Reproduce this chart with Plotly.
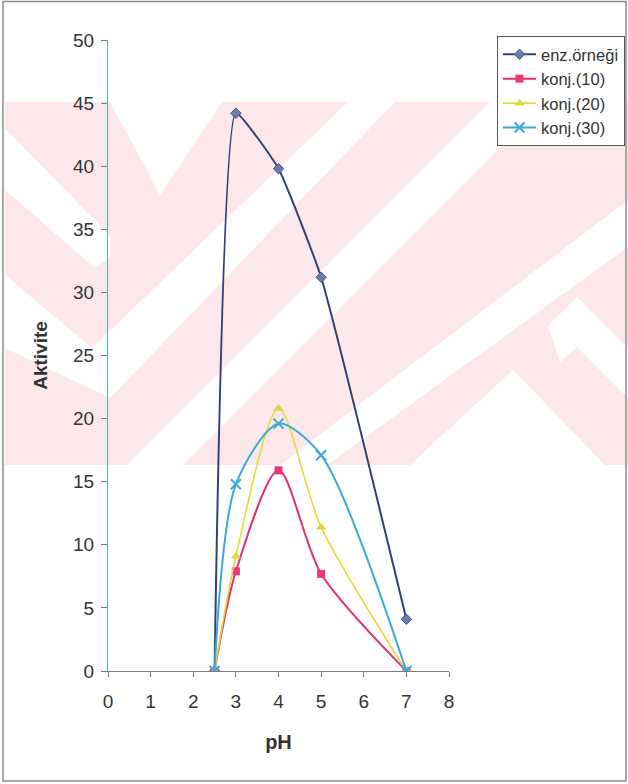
import plotly.graph_objects as go

# pH values and measured activity for each sample
ph = [2.5, 3, 4, 5, 7]
enz_ornegi = [0, 44.2, 39.8, 31.2, 4.1]
konj_10 = [0, 7.9, 15.9, 7.7, 0]
konj_20 = [0, 9.1, 20.8, 11.4, 0]
konj_30 = [0, 14.8, 19.6, 17.1, 0]

series_names = ["enz.örneği", "konj.(10)", "konj.(20)", "konj.(30)"]

W, H = 628, 784
L, R, T, B = 108, 449, 40, 671  # plot area in pixels


def px(x):
    return (x - L) / (R - L)


def py(y):
    return (B - y) / (B - T)


def poly(points):
    return "M " + " L ".join(f"{px(x):.4f},{py(y):.4f}" for x, y in points) + " Z"


fig = go.Figure()

styles = [
    dict(color="#34406f", width=2, smooth=0.4,
         marker=dict(symbol="diamond", size=8, color="#6e7eab", line=dict(color="#44517f", width=1))),
    dict(color="#e2306f", width=2, smooth=0.8,
         marker=dict(symbol="square", size=8, color="#e8367a", line=dict(width=0))),
    dict(color="#e2dc3a", width=1.6, smooth=0.8,
         marker=dict(symbol="triangle-up", size=9, color="#dcd640", line=dict(width=0))),
    dict(color="#3aaad8", width=2, smooth=0.8,
         marker=dict(symbol="x-thin", size=10, line=dict(color="#3aaad8", width=2))),
]

for name, vals, st in zip(series_names, [enz_ornegi, konj_10, konj_20, konj_30], styles):
    fig.add_trace(go.Scatter(
        x=ph, y=vals, name=name, mode="lines+markers",
        line=dict(color=st["color"], width=st["width"], shape="spline", smoothing=st["smooth"]),
        marker=st["marker"],
    ))

# faint background band with white chevron stripes
pink = "#fce8eb"
shapes = [
    dict(type="path", xref="paper", yref="paper", layer="below",
         path=poly([(5, 102), (628, 102), (628, 465), (5, 465)]),
         fillcolor=pink, line=dict(width=0)),
]
white_polys = [
    [(110, 102), (222, 102), (160, 195)],
    [(5, 128), (110, 236), (110, 258), (95, 268), (5, 190)],
    [(5, 275), (92, 348), (348, 102), (395, 102), (110, 398), (5, 348)],
    [(490, 102), (546, 102), (183, 465), (127, 465)],
    [(280, 465), (628, 200), (628, 247), (327, 465)],
    [(548, 326), (577, 297), (628, 348), (628, 398), (577, 347), (560, 362)],
    [(410, 465), (513, 370), (605, 465)],
]
for pts in white_polys:
    shapes.append(dict(type="path", xref="paper", yref="paper", layer="below",
                       path=poly(pts), fillcolor="white", line=dict(width=0)))

# outer frame
shapes.append(dict(type="rect", xref="paper", yref="paper", layer="above",
                   x0=px(3), x1=px(626), y0=py(781), y1=py(1.5),
                   line=dict(color="#8a8a8a", width=1.5)))

font_family = "Arial, Liberation Sans, sans-serif"

fig.update_layout(
    width=W, height=H,
    margin=dict(l=L, r=W - R, t=T, b=H - B, autoexpand=False),
    paper_bgcolor="white",
    plot_bgcolor="rgba(0,0,0,0)",
    font=dict(family=font_family, size=19, color="#333333"),
    shapes=shapes,
    showlegend=True,
    legend=dict(
        x=px(497), y=py(36), xanchor="left", yanchor="top",
        bgcolor="rgba(255,255,255,1)", bordercolor="#555555", borderwidth=1,
        font=dict(family=font_family, size=16.5, color="#333333"),
        tracegroupgap=0, itemwidth=33,
    ),
    xaxis=dict(
        range=[0, 8], dtick=1, tick0=0, showgrid=False, zeroline=False,
        showline=True, linecolor="#7a7a7a", linewidth=1,
        ticks="outside", ticklen=5, tickcolor="#7a7a7a",
        ticklabelstandoff=8,
        tickfont=dict(size=19, color="#333333"),
        title=dict(text="<b>pH</b>", font=dict(size=20, color="#333333"), standoff=24),
    ),
    yaxis=dict(
        range=[0, 50], dtick=5, tick0=0, showgrid=False, zeroline=False,
        showline=True, linecolor="#5aaab4", linewidth=1,
        ticks="outside", ticklen=6, tickcolor="#7a7a7a",
        ticklabelstandoff=3,
        tickfont=dict(size=19, color="#333333"),
        title=dict(text="<b>Aktivite</b>", font=dict(size=19, color="#333333"), standoff=20),
    ),
)

fig.write_html("out.html")
